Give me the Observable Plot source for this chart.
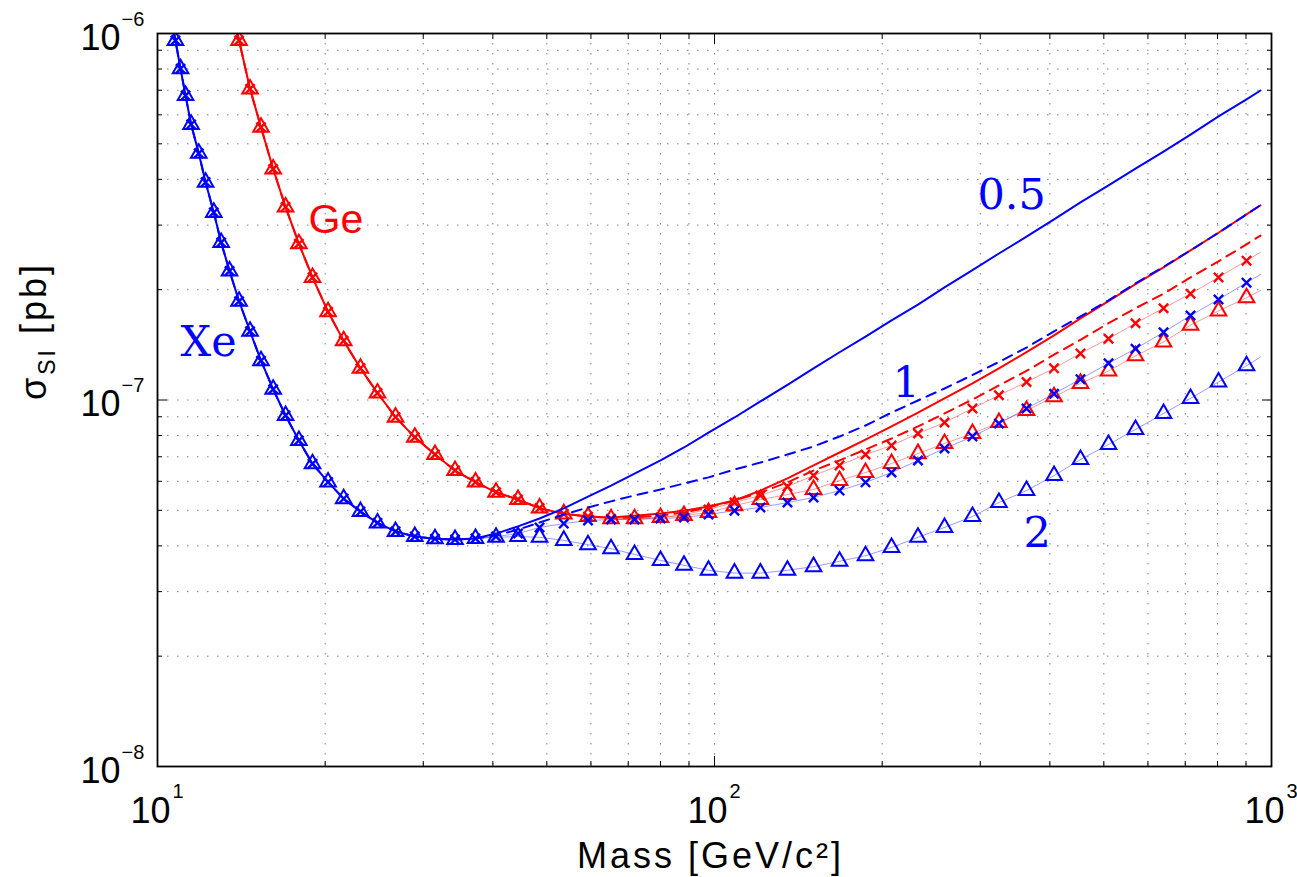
<!DOCTYPE html>
<html>
<head>
<meta charset="utf-8">
<script src="https://cdn.jsdelivr.net/npm/d3@7"></script>
<script src="https://cdn.jsdelivr.net/npm/@observablehq/plot@0.6"></script>
<style>
  html, body { margin: 0; padding: 0; background: #fff; overflow: hidden; }
  #chart svg { display: block; }
</style>
</head>
<body>
<div id="chart"></div>
<script>
// ---- DATA ----------------------------------------------------------------
// Common WIMP-mass grid [GeV/c^2] (marker positions)
const mass = [10.55,10.77,11.00,11.23,11.49,11.86,12.20,12.62,13.01,13.47,14.01,14.66,15.34,16.13,16.98,17.94,18.98,20.24,21.59,23.14,24.83,26.75,28.97,31.49,34.21,37.23,40.53,44.38,48.52,53.63,59.28,65.20,71.85,80.00,88.15,97.55,108.6,120.9,135.2,150.6,167.7,186.7,207.9,231.9,258.8,290.5,324.1,363.2,407.0,454.0,509.8,570.0,640.0,715.5,803.3,901.9,955.6];

// sigma_SI values in units of 1e-8 pb
// Xe: common low-mass branch (grid index 0..25)
const xeLow = [114,95.7,80.1,67.7,56.5,47.1,39.3,32.5,26.9,22.5,18.6,15.4,12.8,10.7,9.07,7.75,6.70,5.97,5.38,4.96,4.62,4.38,4.24,4.18,4.16,4.19];
// Xe high-mass branches (grid index 26..56)
const xeHigh05 = [4.32,4.52,4.75,5.06,5.45,5.84,6.30,6.84,7.42,8.15,8.96,9.91,11.0,12.2,13.5,14.9,16.5,18.2,20.3,22.6,25.1,27.9,31.1,34.6,38.5,42.8,47.6,53.0,59.4,66.1,69.9];
const xeHigh1  = [4.27,4.43,4.63,4.87,5.09,5.29,5.49,5.70,5.92,6.15,6.46,6.75,7.10,7.47,7.95,8.52,9.24,9.97,10.75,11.7,12.7,13.9,15.4,16.9,18.7,20.8,23.1,25.6,28.6,32.1,34.0];
const xeHigh15 = [4.24,4.32,4.49,4.60,4.69,4.72,4.72,4.75,4.78,4.87,4.99,5.09,5.25,5.42,5.66,5.96,6.34,6.84,7.37,7.95,8.63,9.48,10.4,11.4,12.6,13.8,15.3,17.0,18.8,20.9,22.0];
const xeHigh2  = [4.22,4.24,4.22,4.14,4.03,3.93,3.79,3.65,3.54,3.43,3.37,3.37,3.43,3.51,3.63,3.76,3.96,4.22,4.49,4.81,5.25,5.66,6.22,6.88,7.56,8.31,9.19,10.1,11.2,12.4,13.1];

// Ge: common low-mass branch (grid index 9..30)
const geLow = [126,95.7,70.6,55.5,42.7,33.6,26.7,21.6,17.4,14.5,12.2,10.45,8.98,7.91,7.10,6.42,5.97,5.60,5.35,5.07,4.89,4.81];
// Ge high-mass branches (grid index 31..56)
const geHigh05 = [4.78,4.83,4.90,4.99,5.12,5.32,5.66,6.11,6.63,7.19,7.80,8.47,9.24,10.1,11.1,12.2,13.5,15.0,16.7,18.6,20.7,23.0,25.6,28.6,32.1,34.0];
const geHigh1  = [4.76,4.78,4.84,4.93,5.09,5.32,5.59,5.96,6.42,6.84,7.33,7.85,8.47,9.19,10.03,10.96,12.0,13.3,14.6,16.2,17.8,19.5,21.6,23.9,26.6,28.1];
const geHigh15 = [4.74,4.74,4.78,4.87,5.03,5.25,5.49,5.81,6.22,6.63,7.10,7.51,8.10,8.68,9.48,10.3,11.2,12.2,13.4,14.7,16.2,17.8,19.5,21.6,24.0,25.3];
const geHigh2  = [4.74,4.74,4.78,4.84,4.93,5.15,5.35,5.52,5.70,6.03,6.34,6.71,7.14,7.61,8.10,8.68,9.36,10.2,11.1,12.0,13.2,14.4,16.0,17.5,19.0,19.9];

// Axis ticks
const xMajor = [10, 100, 1000];
const xExp = ["1", "2", "3"];
const xMinor = [20,30,40,50,60,70,80,90,200,300,400,500,600,700,800,900];
const yMajor = [1e-8, 1e-7, 1e-6];
const yExp = ["\u22128", "\u22127", "\u22126"];
const yMinor = [2e-8,3e-8,4e-8,5e-8,6e-8,7e-8,8e-8,9e-8,2e-7,3e-7,4e-7,5e-7,6e-7,7e-7,8e-7,9e-7];

// In-plot annotations
const serifNotes = [
  {text: "Xe",  m: 11.0,  s: 1.32e-7},
  {text: "0.5", m: 296.6, s: 3.33e-7},
  {text: "1",   m: 208.7, s: 1.016e-7},
  {text: "2",   m: 358.6, s: 3.96e-8}
];
const sansNotes = [
  {text: "Ge",  m: 18.67, s: 2.85e-7}
];

// ---- BUILD ---------------------------------------------------------------
const BLUE = "#0000ff", RED = "#ff0000";
const SANS = "'Liberation Sans', Arial, Helvetica, sans-serif";
const SERIF = "'DejaVu Serif', 'Liberation Serif', serif";

function series(low, lowStart, high, highStart) {
  const rows = [];
  low.forEach((v, k) => rows.push({m: mass[lowStart + k], s: v * 1e-8}));
  high.forEach((v, k) => rows.push({m: mass[highStart + k], s: v * 1e-8}));
  return rows;
}
const xe05 = series(xeLow, 0, xeHigh05, 26);
const xe1  = series(xeLow, 0, xeHigh1, 26);
const xe15 = series(xeLow, 0, xeHigh15, 26);
const xe2  = series(xeLow, 0, xeHigh2, 26);
const ge05 = series(geLow, 9, geHigh05, 31);
const ge1  = series(geLow, 9, geHigh1, 31);
const ge15 = series(geLow, 9, geHigh15, 31);
const ge2  = series(geLow, 9, geHigh2, 31);
const markerRows = rows => rows.filter(d => d.m < 950);

function groupMarks(color, s05, s1, s15, s2) {
  return [
    Plot.line(s15, {x: "m", y: "s", stroke: color, strokeWidth: 1, strokeOpacity: 0.4, clip: true}),
    Plot.line(s2,  {x: "m", y: "s", stroke: color, strokeWidth: 1, strokeOpacity: 0.4, clip: true}),
    Plot.line(s05, {x: "m", y: "s", stroke: color, strokeWidth: 2, clip: true}),
    Plot.line(s1,  {x: "m", y: "s", stroke: color, strokeWidth: 2, strokeDasharray: "10,7", clip: true}),
    Plot.dot(markerRows(s2),  {x: "m", y: "s", symbol: "triangle", r: 5.8, stroke: color, fill: "none", strokeWidth: 2, clip: true}),
    Plot.dot(markerRows(s15), {x: "m", y: "s", symbol: "times", r: 4.3, stroke: color, fill: "none", strokeWidth: 2.4, clip: true})
  ];
}

const chart = Plot.plot({
  width: 1297,
  height: 877,
  marginLeft: 157,
  marginRight: 26,
  marginTop: 33,
  marginBottom: 111,
  style: {background: "#fff", overflow: "visible"},
  x: {type: "log", domain: [10, 1000], axis: null},
  y: {type: "log", domain: [1e-8, 1e-6], axis: null},
  marks: [
    // dotted grid
    Plot.gridX(xMinor.concat([100]), {stroke: "#808080", strokeOpacity: 1, strokeWidth: 1, strokeDasharray: "1.5,8.5"}),
    Plot.gridY(yMinor.concat([1e-7]), {stroke: "#808080", strokeOpacity: 1, strokeWidth: 1, strokeDasharray: "1.5,8.5"}),
    // inward ticks on all four sides
    Plot.axisX(xMinor, {anchor: "bottom", tickSize: -5, tickFormat: () => "", label: null}),
    Plot.axisX(xMinor, {anchor: "top", tickSize: -5, tickFormat: () => "", label: null}),
    Plot.axisX(xMajor, {anchor: "bottom", tickSize: -10, tickFormat: () => "", label: null}),
    Plot.axisX(xMajor, {anchor: "top", tickSize: -10, tickFormat: () => "", label: null}),
    Plot.axisY(yMinor, {anchor: "left", tickSize: -5, tickFormat: () => "", label: null}),
    Plot.axisY(yMinor, {anchor: "right", tickSize: -5, tickFormat: () => "", label: null}),
    Plot.axisY(yMajor, {anchor: "left", tickSize: -10, tickFormat: () => "", label: null}),
    Plot.axisY(yMajor, {anchor: "right", tickSize: -10, tickFormat: () => "", label: null}),
    // curves: Ge first, then Xe on top
    ...groupMarks(RED, ge05, ge1, ge15, ge2),
    ...groupMarks(BLUE, xe05, xe1, xe15, xe2),
    Plot.frame({stroke: "black", strokeWidth: 1.8}),
    // tick labels 10^n
    Plot.text(xMajor, {x: d => d, frameAnchor: "bottom", text: () => "10", textAnchor: "end", lineAnchor: "bottom", dx: 13, dy: 56, fontSize: 36, fontFamily: SANS, fill: "black"}),
    Plot.text(xMajor, {x: d => d, frameAnchor: "bottom", text: (d, i) => xExp[i], textAnchor: "start", lineAnchor: "bottom", dx: 15, dy: 31, fontSize: 20, fontFamily: SANS, fill: "black"}),
    Plot.text(yMajor, {y: d => d, frameAnchor: "left", text: () => "10", textAnchor: "end", lineAnchor: "bottom", dx: -37, dy: 16, fontSize: 36, fontFamily: SANS, fill: "black"}),
    Plot.text(yMajor, {y: d => d, frameAnchor: "left", text: (d, i) => yExp[i], textAnchor: "start", lineAnchor: "bottom", dx: -36, dy: -8, fontSize: 20, fontFamily: SANS, fill: "black"}),
    // axis labels
    Plot.text(["Mass [GeV/c\u00B2]"], {frameAnchor: "bottom", text: d => d, lineAnchor: "bottom", dy: 101, dx: -4, fontSize: 36, fontFamily: SANS, fill: "black"}),
    Plot.text(["σSI [pb]"], {frameAnchor: "left", text: d => d, rotate: -90, dx: -123, fontSize: 36, fontFamily: SANS, fill: "black"}),
    // annotations
    Plot.text(serifNotes, {x: "m", y: "s", text: "text", fill: BLUE, textAnchor: "start", lineAnchor: "bottom", fontSize: 43, fontFamily: SERIF}),
    Plot.text(sansNotes, {x: "m", y: "s", text: "text", fill: RED, textAnchor: "start", lineAnchor: "bottom", fontSize: 41, fontFamily: SANS})
  ]
});

// axis-label typography: subscript "SI" and slightly wider tracking
const svg = d3.select(chart);
svg.selectAll("text").filter(function() { return this.textContent === "Mass [GeV/c\u00B2]"; })
  .attr("letter-spacing", "3");
svg.selectAll("text").filter(function() { return this.textContent === "σSI [pb]"; }).each(function() {
  const t = d3.select(this);
  t.attr("letter-spacing", "3");
  t.text(null);
  t.append("tspan").text("σ");
  t.append("tspan").attr("font-size", "23px").attr("dy", "9").text("SI");
  t.append("tspan").attr("dy", "-9").text(" [pb]");
});

document.getElementById("chart").appendChild(chart);
</script>
</body>
</html>
